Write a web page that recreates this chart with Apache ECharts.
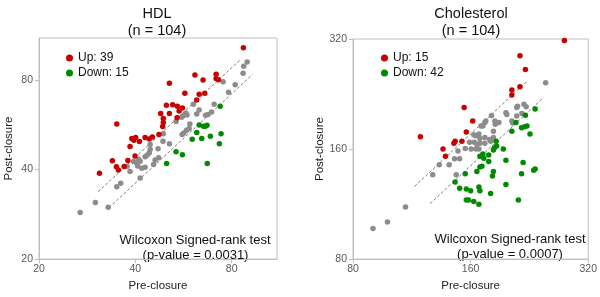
<!DOCTYPE html>
<html><head><meta charset="utf-8">
<script src="https://cdn.jsdelivr.net/npm/echarts@6/dist/echarts.min.js"></script>
<style>html,body{margin:0;padding:0;background:#fff}#c{width:600px;height:297px}</style>
</head><body><div id="c"></div>
<script>
// ---- tick labels ----
const hdlTicks = [20, 40, 80];
const cholTicks = [80, 160, 320];

// ---- HDL (mg/dL): pre-closure / post-closure ----
const hdlUpPre  = [87.0,61.4,71.5,65.1,71.5,72.7,51.1,57.1,65.9,63.3,62.2,50.0,52.3,54.1,56.1,48.0,51.1,48.9,48.9,48.7,54.0,35.0,39.0,40.1,41.2,42.9,44.2,45.2,38.5,33.9,37.9,39.9,34.9,35.4,36.9,30.9,47.4,54.8,39.6];
const hdlUpPost = [102.8,83.2,83.7,80.0,81.0,80.2,78.1,72.2,72.2,71.7,68.5,65.8,66.1,65.3,64.5,61.8,61.8,59.4,57.6,55.8,59.8,56.9,50.9,51.3,49.7,51.3,50.7,51.5,47.8,42.8,42.9,44.4,40.9,39.9,41.0,38.9,52.5,63.0,50.2];
const hdlDownPre  = [73.6,63.3,65.3,66.2,62.2,60.2,64.5,68.6,74.1,73.2,53.6,56.1,50.1,67.1,67.0];
const hdlDownPost = [65.3,56.5,55.9,55.9,53.3,50.6,50.9,51.8,52.8,48.9,45.9,44.9,41.9,41.9,56.4];
const hdlSamePre  = [89.4,87.2,86.8,75.2,78.2,60.7,69.2,67.5,66.3,62.2,57.5,58.0,56.4,55.8,59.2,58.9,57.8,56.7,56.0,48.9,48.8,51.1,47.1,44.5,44.2,43.5,42.9,47.3,45.6,41.4,40.4,40.7,41.9,42.9,37.7,41.4,36.0,35.0,30.0,32.9,26.9,39.5,40.9,44.5,46.1,53.6,63.3,70.5,82.0,38.5];
const hdlSamePost = [92.0,89.1,84.3,79.0,72.8,66.4,62.5,61.3,60.9,61.5,62.0,61.0,60.7,60.0,56.9,55.0,54.2,53.1,52.5,52.8,49.8,48.9,47.0,46.7,45.5,44.7,44.2,43.8,41.6,42.7,42.0,41.1,40.4,40.7,41.0,37.5,36.0,35.0,31.0,29.9,28.7,42.6,43.3,48.6,43.1,58.1,63.5,66.4,77.1,39.4];
// +/-10% reference lines (endpoints)
const hdlUpperLinePre = [30.6, 85.7], hdlUpperLinePost = [33.7, 94.3];
const hdlLowerLinePre = [33.1, 92.9], hdlLowerLinePost = [29.8, 83.6];

// ---- Cholesterol (mg/dL) ----
const cholUpPre  = [278,214,221,214,204,204,154,162,156,119,146,145,152,136,138];
const cholUpPost = [317,288,264,237,232,225,208,191,178,173,168,166,168,160,153];
const cholDownPre  = [234,221,209,223,220,216,227,204,186,186.5,184,183,194,178,172,169,173,178,197,218,234,232,216,183,182,169,171,166,155,146,168,169,150,156,160,197,180,212,156,158,163,168];
const cholDownPost = [206,198,189,185,184,183,176,179,168,163,161,159,160,154,155,153,151,148,149,147,141,140,137,139,135,143,143.5,139,137,130,126,123,125,124.5,123,128,121,116,116,116,115,113];
const cholSamePre  = [249,219,222,211,210,197,198,181,210,204,205,175,174,170,172,184.5,189,183,168,165,163,183,179,163.5,166,169,174,155,160.5,165,168,148.5,145.5,150,133,141,147,128,109,98,90,216.5,185,169,180,159,174];
const cholSamePost = [243,212,209,209.5,208,201,199,197.5,197,191,188.5,191,189,185,185,191,189,179,176,174,175,172,170,167,165,166,166,160.5,160,160,160,158,150.5,150.5,145,145,136,136,111,101,97,200,187,171,168,167,172];
const cholUpperLinePre = [115, 224], cholUpperLinePost = [126.5, 246.4];
const cholLowerLinePre = [126, 245], cholLowerLinePost = [113.4, 220.5];

const FONT = '"Liberation Sans", Arial, sans-serif';
const RED = '#c80000', GREEN = '#008a00', GRAY = '#8c8c8c';
const lg = (v, base) => Math.log2(v / base);
const pts = (xs, ys, base) => xs.map((x, i) => [lg(x, base), lg(ys[i], base)]);

function axis(base, ticks, maxT, gi, isX) {
  const cv = ticks.map(t => lg(t, base));
  return {
    type: 'value', gridIndex: gi, min: 0, max: maxT,
    axisLine: { show: true, lineStyle: { color: '#bfbfbf', width: 1 } },
    axisTick: { show: true, length: 4, inside: false, customValues: cv, lineStyle: { color: '#bfbfbf' } },
    axisLabel: { customValues: cv, formatter: v => String(Math.round(base * Math.pow(2, v))),
      color: '#595959', fontSize: 10.5, fontFamily: FONT, margin: isX ? 5 : 6 },
    splitLine: { show: false },
    name: isX ? 'Pre-closure' : 'Post-closure', nameLocation: 'middle',
    nameGap: isX ? 17 : 24,
    nameTextStyle: { color: '#222', fontSize: 11.5, fontFamily: FONT }
  };
}

function scatter(name, xs, ys, base, color, gi, z) {
  return { type: 'scatter', name, xAxisIndex: gi, yAxisIndex: gi, data: pts(xs, ys, base),
    symbol: 'circle', symbolSize: 5.5, itemStyle: { color, opacity: 1 }, z, silent: true };
}
function refLine(xs, ys, base, gi) {
  return { type: 'line', xAxisIndex: gi, yAxisIndex: gi, data: pts(xs, ys, base), symbol: 'none',
    lineStyle: { color: '#7f7f7f', width: 1, type: [3, 2] }, z: 1, silent: true };
}

const hdlUpName = 'Up: ' + hdlUpPre.length, hdlDownName = 'Down: ' + hdlDownPre.length;
const cholUpName = 'Up: ' + cholUpPre.length, cholDownName = 'Down: ' + cholDownPre.length;

const legendBase = {
  orient: 'vertical', icon: 'circle', itemWidth: 7, itemHeight: 7, itemGap: 1,
  textStyle: { fontSize: 12, fontFamily: FONT, color: '#111', lineHeight: 14 }, selectedMode: false
};

const textStyleW = { fontSize: 13, fontFamily: FONT, fill: '#111', textAlign: 'center', textVerticalAlign: 'middle' };

const chart = echarts.init(document.getElementById('c'), null, { renderer: 'canvas' });
chart.setOption({
  animation: false,
  backgroundColor: '#fff',
  title: [
    { text: 'HDL\n(n = 104)', left: 152, top: 0, textAlign: 'center',
      textStyle: { fontSize: 14.5, fontWeight: 'normal', fontFamily: FONT, color: '#111', lineHeight: 17 } },
    { text: 'Cholesterol\n(n = 104)', left: 466, top: 0, textAlign: 'center',
      textStyle: { fontSize: 14.5, fontWeight: 'normal', fontFamily: FONT, color: '#111', lineHeight: 17 } }
  ],
  legend: [
    Object.assign({}, legendBase, { left: 61, top: 46, data: [hdlUpName, hdlDownName] }),
    Object.assign({}, legendBase, { left: 376, top: 46, data: [cholUpName, cholDownName] })
  ],
  grid: [
    { left: 39, top: 38, width: 238, height: 229, show: true, borderColor: '#bfbfbf', borderWidth: 1, containLabel: false },
    { left: 353, top: 39, width: 238, height: 228, show: true, borderColor: '#bfbfbf', borderWidth: 1, containLabel: false }
  ],
  xAxis: [axis(20, hdlTicks, 2.47, 0, true), axis(80, cholTicks, 2, 1, true)],
  yAxis: [axis(20, hdlTicks, 2.47, 0, false), axis(80, cholTicks, 2, 1, false)],
  graphic: [
    { type: 'text', x: 195, y: 240, style: Object.assign({ text: 'Wilcoxon Signed-rank test' }, textStyleW) },
    { type: 'text', x: 195.5, y: 255, style: Object.assign({ text: '(p-value = 0.0031)' }, textStyleW) },
    { type: 'text', x: 510, y: 239.5, style: Object.assign({ text: 'Wilcoxon Signed-rank test' }, textStyleW) },
    { type: 'text', x: 510, y: 254.5, style: Object.assign({ text: '(p-value = 0.0007)' }, textStyleW) }
  ],
  series: [
    refLine(hdlUpperLinePre, hdlUpperLinePost, 20, 0),
    refLine(hdlLowerLinePre, hdlLowerLinePost, 20, 0),
    scatter('same', hdlSamePre, hdlSamePost, 20, GRAY, 0, 2),
    scatter(hdlUpName, hdlUpPre, hdlUpPost, 20, RED, 0, 3),
    scatter(hdlDownName, hdlDownPre, hdlDownPost, 20, GREEN, 0, 3),
    refLine(cholUpperLinePre, cholUpperLinePost, 80, 1),
    refLine(cholLowerLinePre, cholLowerLinePost, 80, 1),
    scatter('same', cholSamePre, cholSamePost, 80, GRAY, 1, 2),
    scatter(cholUpName, cholUpPre, cholUpPost, 80, RED, 1, 3),
    scatter(cholDownName, cholDownPre, cholDownPost, 80, GREEN, 1, 3)
  ]
});
</script></body></html>
